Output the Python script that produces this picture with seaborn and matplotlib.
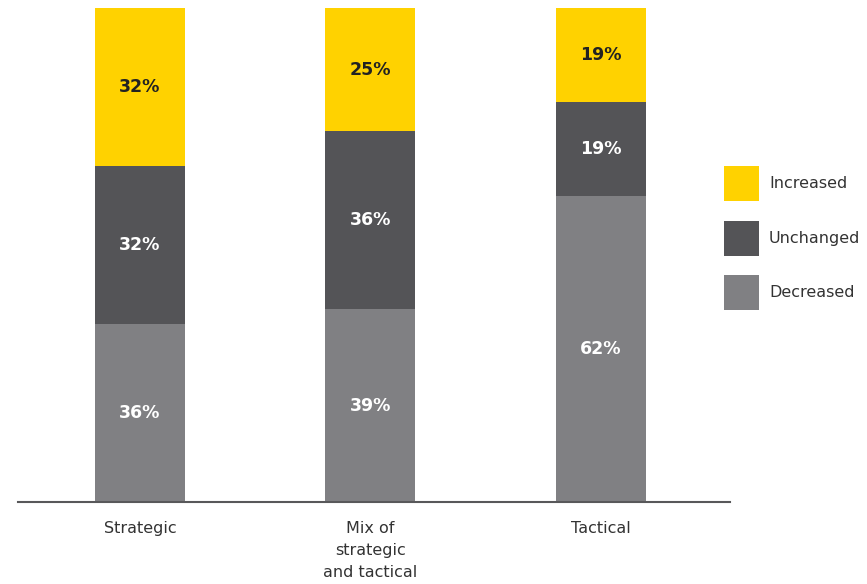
import matplotlib
matplotlib.use("Agg")
import matplotlib.pyplot as plt
import seaborn as sns
import pandas as pd
from matplotlib.patches import Rectangle

categories = ["Strategic", "Mix of\nstrategic\nand tactical", "Tactical"]
decreased = [36, 39, 62]
unchanged = [32, 36, 19]
increased = [32, 25, 19]
series_names = ["Increased", "Unchanged", "Decreased"]
colors = {"Increased": "#FFD200", "Unchanged": "#545457", "Decreased": "#808083"}

sns.set_theme(style="white")
plt.rcParams['font.family'] = ['DejaVu Sans']

df = pd.DataFrame({"cat": categories, "Decreased": decreased,
                   "Unchanged": unchanged, "Increased": increased})
df["top_unch"] = df["Decreased"] + df["Unchanged"]
df["top_inc"] = df["top_unch"] + df["Increased"]

fig = plt.figure(figsize=(8.67, 5.84), dpi=100)
ax = fig.add_axes([18/867, 1-502/584, (730-18)/867, (502-8)/584])

w = 0.39
for col, name in [("top_inc", "Increased"), ("top_unch", "Unchanged"), ("Decreased", "Decreased")]:
    sns.barplot(data=df, x="cat", y=col, color=colors[name], width=w,
                saturation=1, ax=ax, order=categories, linewidth=0, edgecolor="none")

for i in range(len(categories)):
    d, u, inc = decreased[i], unchanged[i], increased[i]
    ax.text(i, d/2, f"{d}%", ha="center", va="center", color="white",
            fontsize=12.5, fontweight="bold")
    ax.text(i, d + u/2, f"{u}%", ha="center", va="center", color="white",
            fontsize=12.5, fontweight="bold")
    ax.text(i, d + u + inc/2, f"{inc}%", ha="center", va="center", color="#222222",
            fontsize=12.5, fontweight="bold")

ax.set_ylim(0, 100)
ax.set_xlim(-0.529, 2.56)
ax.set_xlabel("")
ax.set_ylabel("")
ax.set_yticks([])
for s in ["top", "left", "right"]:
    ax.spines[s].set_visible(False)
ax.spines["bottom"].set_color("#58585A")
ax.spines["bottom"].set_linewidth(1.5)
ax.tick_params(axis="x", length=0, pad=14, labelsize=11.5, colors="#333333")
for lab in ax.get_xticklabels():
    lab.set_linespacing(1.55)
    lab.set_verticalalignment("top")

# legend drawn in figure pixel coordinates
W, H = 867, 584
for k, name in enumerate(series_names):
    top = 166 + k * 54.5
    fig.patches.append(Rectangle((724/W, 1-(top+35)/H), 35/W, 35/H,
                                 transform=fig.transFigure, facecolor=colors[name],
                                 edgecolor="none"))
    fig.text(769/W, 1-(top+17.5)/H, name, ha="left", va="center",
             fontsize=11.5, color="#333333")

fig.savefig("out.png", dpi=100)
